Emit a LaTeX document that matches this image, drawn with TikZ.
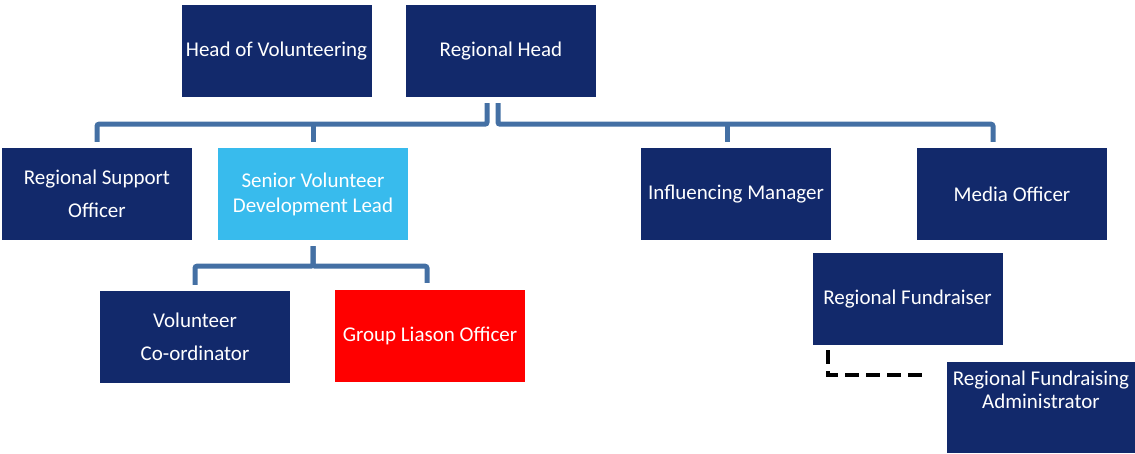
\documentclass[tikz,border=0pt]{standalone}
\usepackage{fontspec}
\setmainfont{Carlito}
\usetikzlibrary{calc}
\definecolor{navy}{RGB}{18,41,107}
\definecolor{skyb}{RGB}{56,187,237}
\definecolor{redb}{RGB}{255,0,0}
\definecolor{connc}{RGB}{68,112,164}
\tikzset{
  orgbox/.style={rectangle, fill=navy, minimum width=190pt, minimum height=92pt, inner sep=0pt, text=white, align=center, font=\fontsize{21}{33}\selectfont},
  conn/.style={draw=connc, line width=5pt, rounded corners=2pt},
  dashline/.style={draw=black, line width=4pt, dash pattern=on 14pt off 7pt},
  txt/.style={text=white, align=center, inner sep=0pt}
}
\begin{document}
\begin{tikzpicture}[x=1pt,y=-1pt]
\useasboundingbox (0,0) rectangle (1135,453);
\node[orgbox] (hov) at (276.5,51) {Head of Volunteering};
\node[orgbox] (rh) at (501,51) {Regional Head};
\node[orgbox] (rso) at (97,194) {Regional Support\\Officer};
\node[orgbox, fill=skyb, font=\fontsize{21}{25}\selectfont] (svdl) at (313,194) {Senior Volunteer\\Development Lead};
\node[orgbox] (im) at (736,194) {Influencing Manager};
\node[orgbox] (mo) at (1012,194) {Media Officer};
\node[orgbox] (rf) at (907.5,299) {Regional Fundraiser};
\node[orgbox] (vc) at (195,337) {Volunteer\\Co-ordinator};
\node[orgbox, fill=redb] (glo) at (430,336) {Group Liason Officer};
\node[orgbox, minimum width=188pt, minimum height=91pt] (rfa) at (1041,407.5) {};
\node[txt, font=\fontsize{21}{23}\selectfont, anchor=north] (rfat) at ([yshift=-9pt]rfa.north) {Regional Fundraising\\Administrator};
% connectors from Regional Head
\draw[conn] ([xshift=-14pt,yshift=-6pt]rh.south) -- ++(0,21) -| ([yshift=6pt]rso.north);
\draw[conn] ([xshift=-3pt,yshift=-6pt]rh.south) -- ++(0,21) -| ([xshift=-19pt,yshift=6pt]mo.north);
\draw[conn] ([yshift=6pt]svdl.north) -- ++(0,-18);
\draw[conn] ([xshift=-9pt,yshift=6pt]im.north) -- ++(0,-18);
% connectors from Senior Volunteer Development Lead
\draw[conn] ([yshift=-6pt]svdl.south) -- ++(0,20) -| ([yshift=6pt]vc.north);
\draw[conn] ([yshift=-6pt]svdl.south) -- ++(0,20) -| ([xshift=-3pt,yshift=7pt]glo.north);
% dashed link
\draw[dashline] ([xshift=-79.5pt,yshift=-5pt]rf.south) |- ([xshift=-19pt,yshift=32.5pt]rfa.west);
\end{tikzpicture}
\end{document}
